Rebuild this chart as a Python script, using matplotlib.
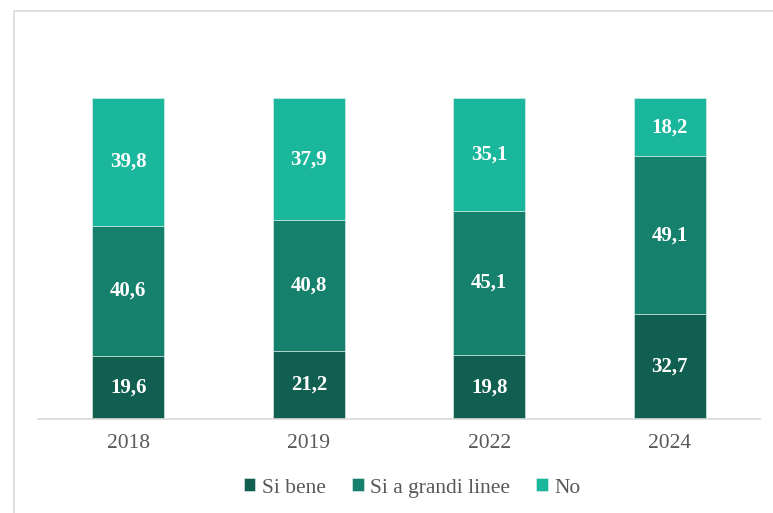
import matplotlib
matplotlib.use("Agg")
import matplotlib.pyplot as plt
from matplotlib.patches import Rectangle

years = ["2018", "2019", "2022", "2024"]
si_bene = [19.6, 21.2, 19.8, 32.7]
si_grandi = [40.6, 40.8, 45.1, 49.1]
no = [39.8, 37.9, 35.1, 18.2]

series = [("Si bene", si_bene, "#115f50"),
          ("Si a grandi linee", si_grandi, "#15806b"),
          ("No", no, "#1bb79c")]

SERIF = ["Liberation Serif", "DejaVu Serif"]
plt.rcParams["font.family"] = SERIF

W, H = 773, 513
fig = plt.figure(figsize=(W / 100, H / 100), dpi=100)
fig.patch.set_facecolor("white")

# light frame round the chart (cut off at right and bottom)
fig.patches.append(Rectangle((14 / W, -0.1), 1.2, 1.1 - 11 / H, transform=fig.transFigure,
                             fill=False, ec="#d9d9d9", lw=1.2))

ax = fig.add_axes([38 / W, 1 - 419 / H, 722 / W, 321 / H])
x = range(len(years))
bottom = [0] * len(years)
for name, vals, col in series:
    bars = ax.bar(x, vals, 0.4, bottom=bottom, color=col, label=name,
                  edgecolor="#e8f2ef", linewidth=0.4)
    for b, v, bt in zip(bars, vals, bottom):
        ax.text(b.get_x() + b.get_width() / 2, bt + v / 2, f"{v:.1f}".replace(".", ","),
                ha="center", va="center", color="white", fontsize=15, fontweight="bold")
    bottom = [b + v for b, v in zip(bottom, vals)]

ax.set_xlim(-0.5, 3.5)
ax.set_ylim(0, 100)
ax.set_xticks(list(x))
ax.set_xticklabels(years, fontsize=15.5, color="#595959")
ax.tick_params(axis="x", length=0, pad=11)
ax.set_yticks([])
for s in ["top", "right", "left"]:
    ax.spines[s].set_visible(False)
ax.spines["bottom"].set_color("#d9d9d9")
ax.spines["bottom"].set_linewidth(1.2)

fig.legend(loc="center", bbox_to_anchor=(412 / W, 1 - 488 / H), ncol=3, frameon=False,
           prop={"family": SERIF, "size": 15.5}, labelcolor="#595959",
           handlelength=0.55, handleheight=0.55, handletextpad=0.3, columnspacing=1.2)

fig.savefig("out.png", dpi=100, facecolor="white")
